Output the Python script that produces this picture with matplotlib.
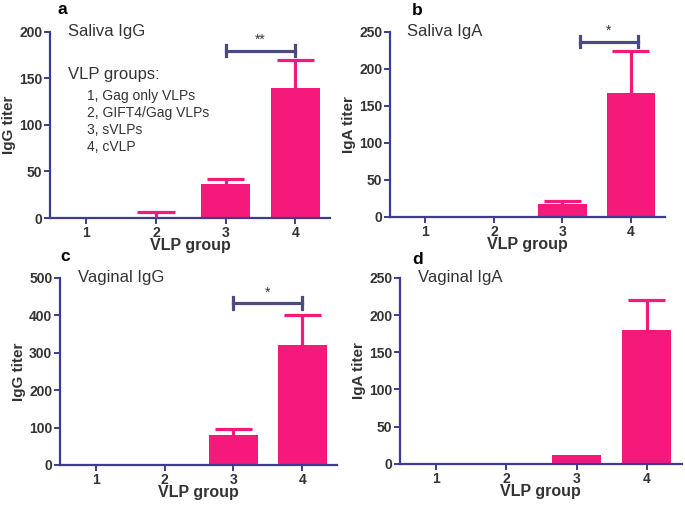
import matplotlib
matplotlib.use("Agg")
import matplotlib.pyplot as plt
import numpy as np

plt.rcParams['font.family'] = ['Liberation Sans', 'DejaVu Sans']

# data
groups = [1, 2, 3, 4]

saliva_igg_mean = [0, 1, 37, 140]
saliva_igg_err = [0, 5, 5, 30]

saliva_iga_mean = [0, 0, 17, 167]
saliva_iga_err = [0, 0, 5, 57]

vaginal_igg_mean = [0, 0, 80, 320]
vaginal_igg_err = [0, 0, 15, 80]

vaginal_iga_mean = [0, 0, 12, 180]
vaginal_iga_err = [0, 0, 0, 40]

legend_items = ["1, Gag only VLPs", "2, GIFT4/Gag VLPs", "3, sVLPs", "4, cVLP"]

PINK = '#F5197C'
AXIS = '#3C3C96'
BRACKET = '#4B4B80'
TXT = '#333333'

fig = plt.figure(figsize=(6.85, 5.07), dpi=100)


def panel(rect, means, errs, ymax, ystep, ylabel, title, letter, letter_pos,
          bracket=None):
    ax = fig.add_axes(rect)
    ax.bar(groups, means, width=0.71, color=PINK, zorder=2)
    # upper-only error bars, cap on top only
    for x, m, e in zip(groups, means, errs):
        if e > 0:
            ax.plot([x, x], [m, m + e], color=PINK, lw=2.3, zorder=3,
                    solid_capstyle='butt')
            ax.plot([x - 0.27, x + 0.27], [m + e, m + e], color=PINK, lw=2.3,
                    zorder=3, solid_capstyle='butt')
    ax.set_xlim(0.48, 4.5)
    ax.set_ylim(0, ymax)
    ax.set_yticks(np.arange(0, ymax + 1, ystep))
    ax.set_xticks(groups)
    for s in ['top', 'right']:
        ax.spines[s].set_visible(False)
    for s in ['left', 'bottom']:
        ax.spines[s].set_color(AXIS)
        ax.spines[s].set_linewidth(1.6)
    ax.tick_params(colors=AXIS, width=1.4, length=4, labelcolor=TXT, pad=1.5)
    for lab in ax.get_xticklabels() + ax.get_yticklabels():
        lab.set_fontweight('bold')
        lab.set_fontsize(10)
    ax.set_ylabel(ylabel, fontsize=11, fontweight='bold', color=TXT, labelpad=2)
    ax.set_xlabel('VLP group', fontsize=11.5, fontweight='bold', color=TXT, labelpad=-1)
    ax.text(0.064, 1.0, title, transform=ax.transAxes, fontsize=12,
            color=TXT, va='center', ha='left')
    ax.text(letter_pos[0], letter_pos[1], letter, transform=ax.transAxes,
            fontsize=12.5, fontweight='bold', color='black', va='center', ha='left')
    ax.patch.set_alpha(0)
    if bracket is not None:
        x0, x1, yb, stars = bracket
        tick = ymax * 0.03
        ax.plot([x0, x1], [yb, yb], color=BRACKET, lw=2.3, clip_on=False)
        ax.plot([x0, x0], [yb - tick, yb + tick], color=BRACKET, lw=2.3, clip_on=False)
        ax.plot([x1, x1], [yb - tick, yb + tick], color=BRACKET, lw=2.3, clip_on=False)
        ax.text((x0 + x1) / 2, yb + tick * 0.6, stars, ha='center', va='bottom',
                fontsize=10, color=TXT)
    return ax


ax_a = panel([0.073, 0.570, 0.409, 0.367], saliva_igg_mean, saliva_igg_err,
             200, 50, 'IgG titer', 'Saliva IgG', 'a', (0.025, 1.118),
             (3, 4, 180, '**'))
ax_a.text(0.064, 0.769, 'VLP groups:', transform=ax_a.transAxes, fontsize=12,
          color=TXT, va='center', ha='left')
for i, item in enumerate(legend_items):
    ax_a.text(0.132, 0.656 - i * 0.091, item, transform=ax_a.transAxes,
              fontsize=10, color=TXT, va='center', ha='left')

panel([0.569, 0.572, 0.402, 0.365], saliva_iga_mean, saliva_iga_err,
      250, 50, 'IgA titer', 'Saliva IgA', 'b', (0.08, 1.118),
      (3.26, 4.1, 237, '*'))
panel([0.0876, 0.083, 0.404, 0.369], vaginal_igg_mean, vaginal_igg_err,
      500, 100, 'IgG titer', 'Vaginal IgG', 'c', (0.0, 1.113),
      (3, 4, 433, '*'))
panel([0.584, 0.085, 0.411, 0.367], vaginal_iga_mean, vaginal_iga_err,
      250, 50, 'IgA titer', 'Vaginal IgA', 'd', (0.043, 1.097))

fig.savefig('out.png', dpi=100)
